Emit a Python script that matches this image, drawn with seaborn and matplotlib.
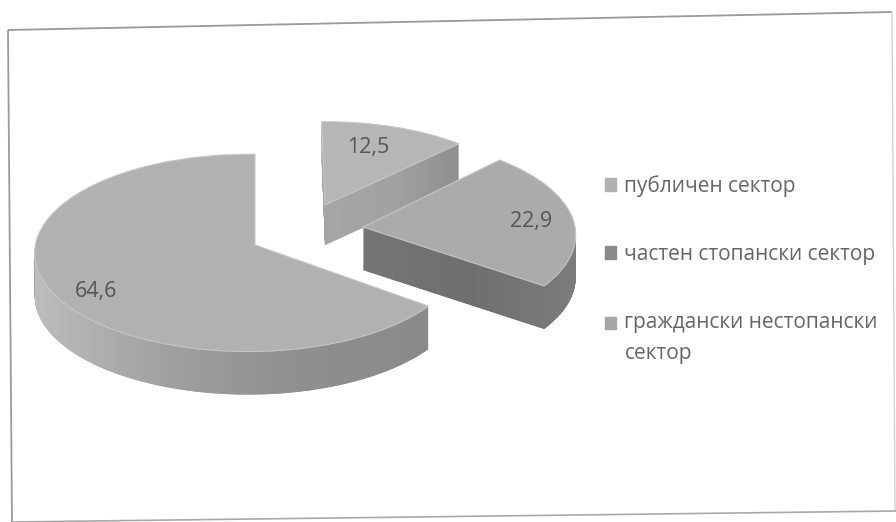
import matplotlib
matplotlib.use("Agg")
import matplotlib.pyplot as plt
import numpy as np
import seaborn as sns
from matplotlib.patches import PathPatch
from matplotlib.path import Path
from matplotlib.transforms import Transform

sectors = ["публичен сектор", "частен стопански сектор", "граждански нестопански\nсектор"]
shares = [12.5, 22.9, 64.6]

top_colors = ["#b6b6b6", "#ababab", "#b1b1b1"]
legend_colors = ["#b0b0b0", "#8a8a8a", "#a6a6a6"]
wall_stops = [["#a6a6a6", "#a2a2a2", "#8e8e8e"],
              ["#767676", "#6f6f6f", "#7c7c7c"],
              ["#bcbcbc", "#a0a0a0", "#8f8f8f", "#8a8a8a"]]
# cx, cy, rx, ry, perspective-y, perspective-x, depth, tilt, wall extent
geometry = [(325, 205, 204, 90, 0.08, 0.00, 40, 1, (322, 462)),
            (363, 227, 212, 97, 0.08, 0.00, 43, 2, (363, 576)),
            (255, 245, 213, 98, 0.08, 0.03, 43, 0, (35, 432))]
label_xy = [(368, 148), (531, 222), (96, 292)]
border_x = [8, 892]
border_top = [30, 12]
border_left_x = [8, 12]
border_left_y = [30, 522]
border_right_x = [892, 895]
border_right_y = [12, 511]
border_bottom_x = [12, 896]
border_bottom_y = [522, 511]


class Projection(Transform):
    input_dims = output_dims = 2
    is_affine = False

    def __init__(self, cx, cy, rx, ry, ky, kx):
        super().__init__()
        self.p = (cx, cy, rx, ry, ky, kx)

    def transform_non_affine(self, xy):
        cx, cy, rx, ry, ky, kx = self.p
        xy = np.asarray(xy, float)
        w = 1 + ky * xy[:, 1] + kx * xy[:, 0]
        return np.column_stack([cx + rx * xy[:, 0] / w, cy - ry * xy[:, 1] / w])


sns.set_theme(style="white")
plt.rcParams["font.family"] = ["Open Sans", "DejaVu Sans"]
fig = plt.figure(figsize=(8.96, 5.22), dpi=100, facecolor="white")
ax = fig.add_axes([0, 0, 1, 1])


def draw_slice(i, color, dy, z):
    wedges, _ = ax.pie(shares, startangle=90 + geometry[i][7], counterclock=False,
                       colors=[color] * 3, radius=1,
                       wedgeprops=dict(linewidth=0))
    for j, w in enumerate(wedges):
        if j != i:
            w.remove()
    w = wedges[i]
    cx, cy, rx, ry, ky, kx = geometry[i][:6]
    pr = Projection(cx, cy + dy, rx, ry, ky, kx)
    w.set_transform(pr + ax.transData)
    w.set_zorder(z)
    return w, pr


for i in range(3):
    base = 10 * (i + 1)
    depth = geometry[i][6]
    polys = []
    for dy in range(depth, 0, -1):
        w, pr = draw_slice(i, wall_stops[i][1], dy, base)
        polys.append(pr.transform_path(w.get_path().interpolated(1)))
    # shaded outer wall: horizontal gradient clipped to the extruded shape
    grad = np.array(sns.blend_palette(wall_stops[i], 64))[None, :, :]
    x0, x1 = geometry[i][8]
    im = ax.imshow(grad, extent=(x0, x1, 522, 0), aspect="auto", zorder=base + 1,
                   interpolation="bilinear")
    clip = PathPatch(Path.make_compound_path(*polys), transform=ax.transData)
    im.set_clip_path(clip)
    w, _ = draw_slice(i, top_colors[i], 0, base + 2)
    w.set_edgecolor("#c6c6c6")
    w.set_linewidth(0.8)
    ax.text(*label_xy[i], f"{shares[i]}".replace(".", ","), ha="center", va="center",
            fontsize=15.5, color="#555555", zorder=base + 3)

ax.set_aspect("auto")
ax.set_xlim(0, 896)
ax.set_ylim(522, 0)
ax.set_frame_on(False)
ax.set_xticks([])
ax.set_yticks([])

line = dict(color="#9a9a9a", lw=1.3, zorder=1, solid_capstyle="butt")
ax.plot(border_x, border_top, **line)
ax.plot(border_left_x, border_left_y, **line)
ax.plot(border_right_x, border_right_y, color="#d0d0d0", lw=1.0, zorder=1)
ax.plot(border_bottom_x, border_bottom_y, color="#a8a8a8", lw=1.2, zorder=1)

proxies = [plt.Rectangle((0, 0), 1, 1, color=c) for c in legend_colors]
leg = ax.legend(proxies, sectors, loc="upper left", bbox_to_anchor=(605, 175),
                bbox_transform=ax.transData, frameon=False, fontsize=15,
                labelcolor="#666666", handlelength=0.53, handleheight=0.53,
                handletextpad=0.4, labelspacing=2.26, borderpad=0, borderaxespad=0)
for t in leg.get_texts():
    t.set_linespacing(1.6)
# the swatch of the two-line entry sits beside its first line
third = leg.get_patches()[2]
third.set_y(third.get_y() + 11)

fig.savefig("out.png", dpi=100, facecolor="white")
